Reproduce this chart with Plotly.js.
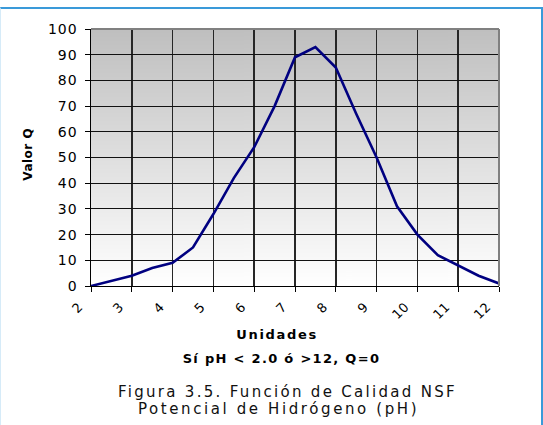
<!DOCTYPE html>
<html>
<head>
<meta charset="utf-8">
<script src="https://cdn.plot.ly/plotly-3.0.1.min.js"></script>
<style>
  html, body { margin: 0; padding: 0; background: #ffffff; }
  #frame { position: absolute; left: 0; top: 7px; width: 540px; height: 418px;
           border-top: 2px solid #3a9ad9; border-right: 2px solid #3a9ad9; border-left: 1px solid #d6ebf8; box-sizing: content-box; }
  #chart { position: absolute; left: 0; top: 0; width: 543px; height: 425px; }
  /* emulate the wide bitmap Verdana rendering of the original */
  #chart .ytick text { letter-spacing: 1px; }
  #chart .xtick text { letter-spacing: 0.5px; }
  #chart .annotation[data-index="0"] .annotation-text { letter-spacing: 0.5px; }
  #chart .annotation[data-index="1"] .annotation-text { letter-spacing: 1.7px; }
  #chart .annotation[data-index="2"] .annotation-text { letter-spacing: 1.3px; }
  #chart .annotation[data-index="3"] .annotation-text { letter-spacing: 2.3px; }
  #chart .annotation[data-index="4"] .annotation-text { letter-spacing: 2.6px; }
</style>
</head>
<body>
<div id="frame"></div>
<div id="chart"></div>
<script>
// ---- data ----
const phUnits = [2, 3, 3.5, 4, 4.5, 5, 5.5, 6, 6.5, 7, 7.5, 8, 8.5, 9, 9.5, 10, 10.5, 11, 11.5, 12];
const qValues = [0, 4, 7, 9, 15, 28, 42, 54, 70, 89, 93, 85, 67, 50, 31, 20, 12, 8, 4, 1];
const xTickValues = [2, 3, 4, 5, 6, 7, 8, 9, 10, 11, 12];
const xTickLabels = ["2", "3", "4", "5", "6", "7", "8", "9", "10", "11", "12"];
const yTickValues = [0, 10, 20, 30, 40, 50, 60, 70, 80, 90, 100];
const yTickLabels = ["0", "10", "20", "30", "40", "50", "60", "70", "80", "90", "100"];
const xTitle = "Unidades";
const yTitle = "Valor Q";
const noteText = "Sí pH &lt; 2.0 ó &gt;12, Q=0";
const captionLine1 = "Figura 3.5. Función de Calidad NSF";
const captionLine2 = "Potencial de Hidrógeno (pH)";

// ---- layout geometry ----
const W = 543, H = 425;
const M = { l: 91, r: 44, t: 29, b: 139 };
const plotW = W - M.l - M.r, plotH = H - M.t - M.b;
const px2x = px => (px - M.l) / plotW;
const py2y = py => (H - M.b - py) / plotH;

// gradient background image for plot area
const cv = document.createElement('canvas');
cv.width = 4; cv.height = 256;
const ctx = cv.getContext('2d');
const g = ctx.createLinearGradient(0, 0, 0, 256);
g.addColorStop(0, '#bfbfbf');
g.addColorStop(1, '#ffffff');
ctx.fillStyle = g; ctx.fillRect(0, 0, 4, 256);
const bgURL = cv.toDataURL('image/png');

const FONT = 'DejaVu Sans, Verdana, sans-serif';

const trace = {
  x: phUnits, y: qValues, type: 'scatter', mode: 'lines',
  line: { color: '#000080', width: 2.6 },
  hoverinfo: 'skip'
};

const layout = {
  width: W, height: H,
  margin: M,
  paper_bgcolor: 'rgba(0,0,0,0)',
  plot_bgcolor: 'rgba(0,0,0,0)',
  showlegend: false,
  font: { family: FONT, color: '#000' },
  images: [{
    source: bgURL, xref: 'paper', yref: 'paper', x: 0, y: 1, sizex: 1, sizey: 1,
    xanchor: 'left', yanchor: 'top', sizing: 'stretch', layer: 'below'
  }],
  xaxis: {
    range: [2, 12], tickmode: 'array', tickvals: xTickValues, ticktext: xTickLabels,
    tickangle: -45, ticks: 'outside', ticklen: 5, tickcolor: '#000', tickwidth: 1,
    ticklabelshift: -12, ticklabelstandoff: 2,
    showgrid: true, gridcolor: '#262626', gridwidth: 1.5, zeroline: false,
    showline: true, linecolor: '#000', linewidth: 1,
    tickfont: { family: FONT, size: 13, color: '#000' }, fixedrange: true
  },
  yaxis: {
    range: [0, 100], tickmode: 'array', tickvals: yTickValues, ticktext: yTickLabels,
    ticks: 'outside', ticklen: 5, tickcolor: '#000', tickwidth: 1,
    ticklabelstandoff: 4,
    showgrid: true, gridcolor: '#111111', gridwidth: 1, zeroline: false,
    showline: true, linecolor: '#000', linewidth: 1.5,
    tickfont: { family: FONT, size: 14, color: '#000' }, fixedrange: true
  },
  shapes: [
    { type: 'line', xref: 'paper', yref: 'paper', x0: 0, x1: 1, y0: 1, y1: 1, line: { color: '#808080', width: 2 } },
    { type: 'line', xref: 'paper', yref: 'paper', x0: 1, x1: 1, y0: 0, y1: 1, line: { color: '#808080', width: 2 } }
  ],
  annotations: [
    { text: '<b>' + yTitle + '</b>', xref: 'paper', yref: 'paper', x: px2x(28), y: py2y(155),
      textangle: -90, showarrow: false, xanchor: 'center', yanchor: 'middle',
      font: { family: FONT, size: 12, color: '#000' } },
    { text: '<b>' + xTitle + '</b>', xref: 'paper', yref: 'paper', x: px2x(277), y: py2y(334),
      showarrow: false, xanchor: 'center', yanchor: 'middle',
      font: { family: FONT, size: 13, color: '#000' } },
    { text: '<b>' + noteText + '</b>', xref: 'paper', yref: 'paper', x: px2x(281), y: py2y(358.5),
      showarrow: false, xanchor: 'center', yanchor: 'middle',
      font: { family: FONT, size: 13, color: '#000' } },
    { text: captionLine1, xref: 'paper', yref: 'paper', x: px2x(287), y: py2y(392),
      showarrow: false, xanchor: 'center', yanchor: 'middle',
      font: { family: FONT, size: 15, color: '#111' } },
    { text: captionLine2, xref: 'paper', yref: 'paper', x: px2x(278.5), y: py2y(408.5),
      showarrow: false, xanchor: 'center', yanchor: 'middle',
      font: { family: FONT, size: 15, color: '#111' } }
  ]
};

Plotly.newPlot('chart', [trace], layout, { displayModeBar: false, staticPlot: true });
</script>
</body>
</html>
